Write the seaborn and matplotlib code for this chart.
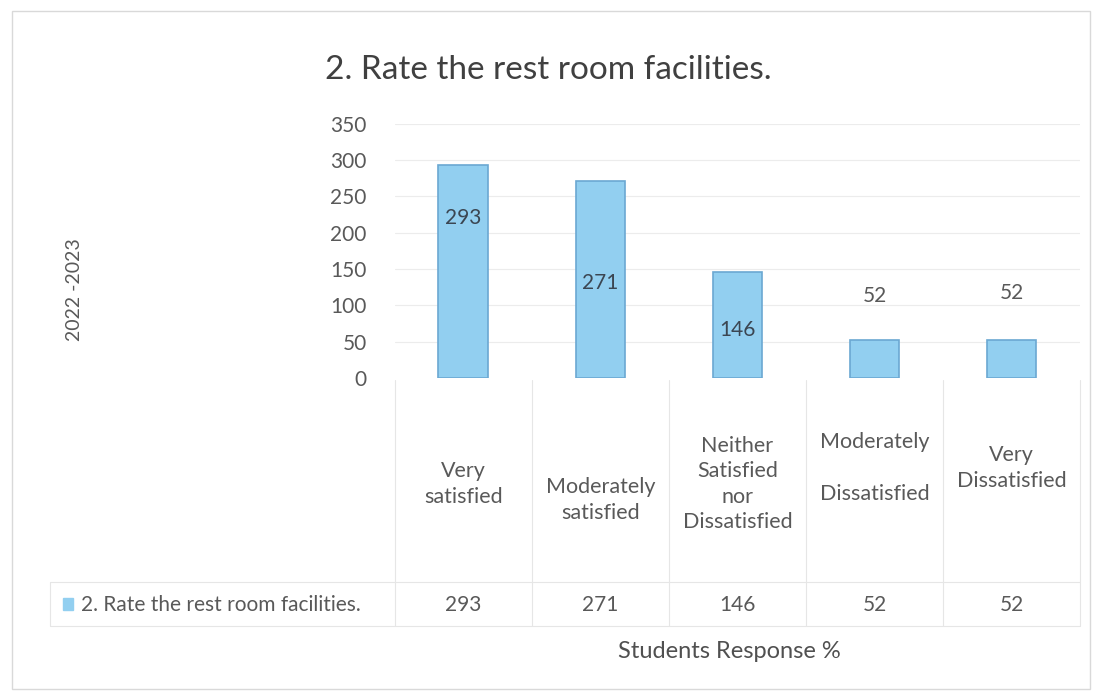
import pandas as pd
import matplotlib.pyplot as plt
import matplotlib.transforms as mtransforms
from matplotlib.patches import Rectangle
import seaborn as sns

# data
categories = ['Very satisfied', 'Moderately satisfied',
              'Neither Satisfied nor Dissatisfied',
              'Moderately Dissatisfied', 'Very Dissatisfied']
cat_labels = ['Very\nsatisfied', 'Moderately\nsatisfied',
              'Neither\nSatisfied\nnor\nDissatisfied',
              'Moderately\n\nDissatisfied', 'Very\nDissatisfied']
responses = [293, 271, 146, 52, 52]
series_name = '2. Rate the rest room facilities.'
y_ticks = [0, 50, 100, 150, 200, 250, 300, 350]

# where excel put the data labels (in data units)
label_y = [220, 131, 66, 113, 117]

df = pd.DataFrame({'category': categories, 'value': responses})

sns.set_theme(style='white')
plt.rcParams['font.family'] = ['Lato', 'DejaVu Sans']

txt = '#595959'
bar_fill = '#92CFF0'
bar_edge = '#6BA8D2'

fig = plt.figure(figsize=(10.99, 6.99), dpi=100)
ax = fig.add_axes([0.359, 0.459, 0.624, 0.364])

sns.barplot(data=df, x='category', y='value', color=bar_fill, width=0.36,
            edgecolor=bar_edge, linewidth=1.2, ax=ax, saturation=1)

ax.set_xlim(-0.5, 4.5)
ax.set_ylim(0, 350)
ax.set_yticks(y_ticks)
ax.set_yticklabels([str(t) for t in y_ticks], color=txt, fontsize=15)
ax.tick_params(axis='y', length=0, pad=20)
ax.set_xticks([])
ax.set_xlabel('')
ax.set_ylabel('')
for t in y_ticks[1:]:
    ax.axhline(t, color='#ececec', lw=0.8, zorder=0)
for s in ax.spines.values():
    s.set_visible(False)

# data labels
for i, (v, ly) in enumerate(zip(responses, label_y)):
    col = '#3b4652' if v > 100 else txt
    ax.text(i, ly, str(v), ha='center', va='center', fontsize=15, color=col)

# title and axis titles
fig.text(0.499, 1 - 70 / 699, series_name, ha='center', va='center',
         fontsize=24, color='#404040')
fig.text(0.068, 1 - 290 / 699, '2022 -2023', rotation=90, ha='center',
         va='center', fontsize=14, color=txt)
fig.text(0.664, 1 - 652 / 699, 'Students Response %', ha='center',
         va='center', fontsize=17, color='#505050')

# data table under the axes
tr = mtransforms.blended_transform_factory(ax.transData, fig.transFigure)
line_c = '#e6e6e6'
y_top, y_row, y_bot = 1 - 380 / 699, 1 - 582 / 699, 1 - 626 / 699
for b in [-0.5, 0.5, 1.5, 2.5, 3.5, 4.5]:
    ax.plot([b, b], [y_top, y_bot], transform=tr, color=line_c, lw=0.8,
            clip_on=False)
fig.add_artist(plt.Line2D([50 / 1099, 1080 / 1099], [y_row, y_row],
                          color=line_c, lw=0.8))
fig.add_artist(plt.Line2D([50 / 1099, 1080 / 1099], [y_bot, y_bot],
                          color=line_c, lw=0.8))
fig.add_artist(plt.Line2D([50 / 1099, 50 / 1099], [y_row, y_bot],
                          color=line_c, lw=0.8))

label_mid = [484, 500, 484, 468, 468]
for i, (lab, ym) in enumerate(zip(cat_labels, label_mid)):
    ax.text(i, 1 - ym / 699, lab, transform=tr, ha='center', va='center',
            fontsize=15.5, color=txt, linespacing=1.35)
    ax.text(i, 1 - 605 / 699, str(responses[i]), transform=tr,
            ha='center', va='center', fontsize=15, color=txt)

fig.add_artist(Rectangle((63 / 1099, 1 - 610 / 699), 10 / 1099, 12 / 699,
                         color=bar_fill, transform=fig.transFigure))
fig.text(81 / 1099, 1 - 605 / 699, series_name, ha='left', va='center',
         fontsize=15, color=txt)

# faint outer frame of the chart area
fig.add_artist(Rectangle((12 / 1099, 10 / 699), 1078 / 1099, 678 / 699,
                         fill=False, edgecolor='#d9d9d9', lw=1,
                         transform=fig.transFigure))

fig.savefig('out.png', dpi=100, facecolor='white')
